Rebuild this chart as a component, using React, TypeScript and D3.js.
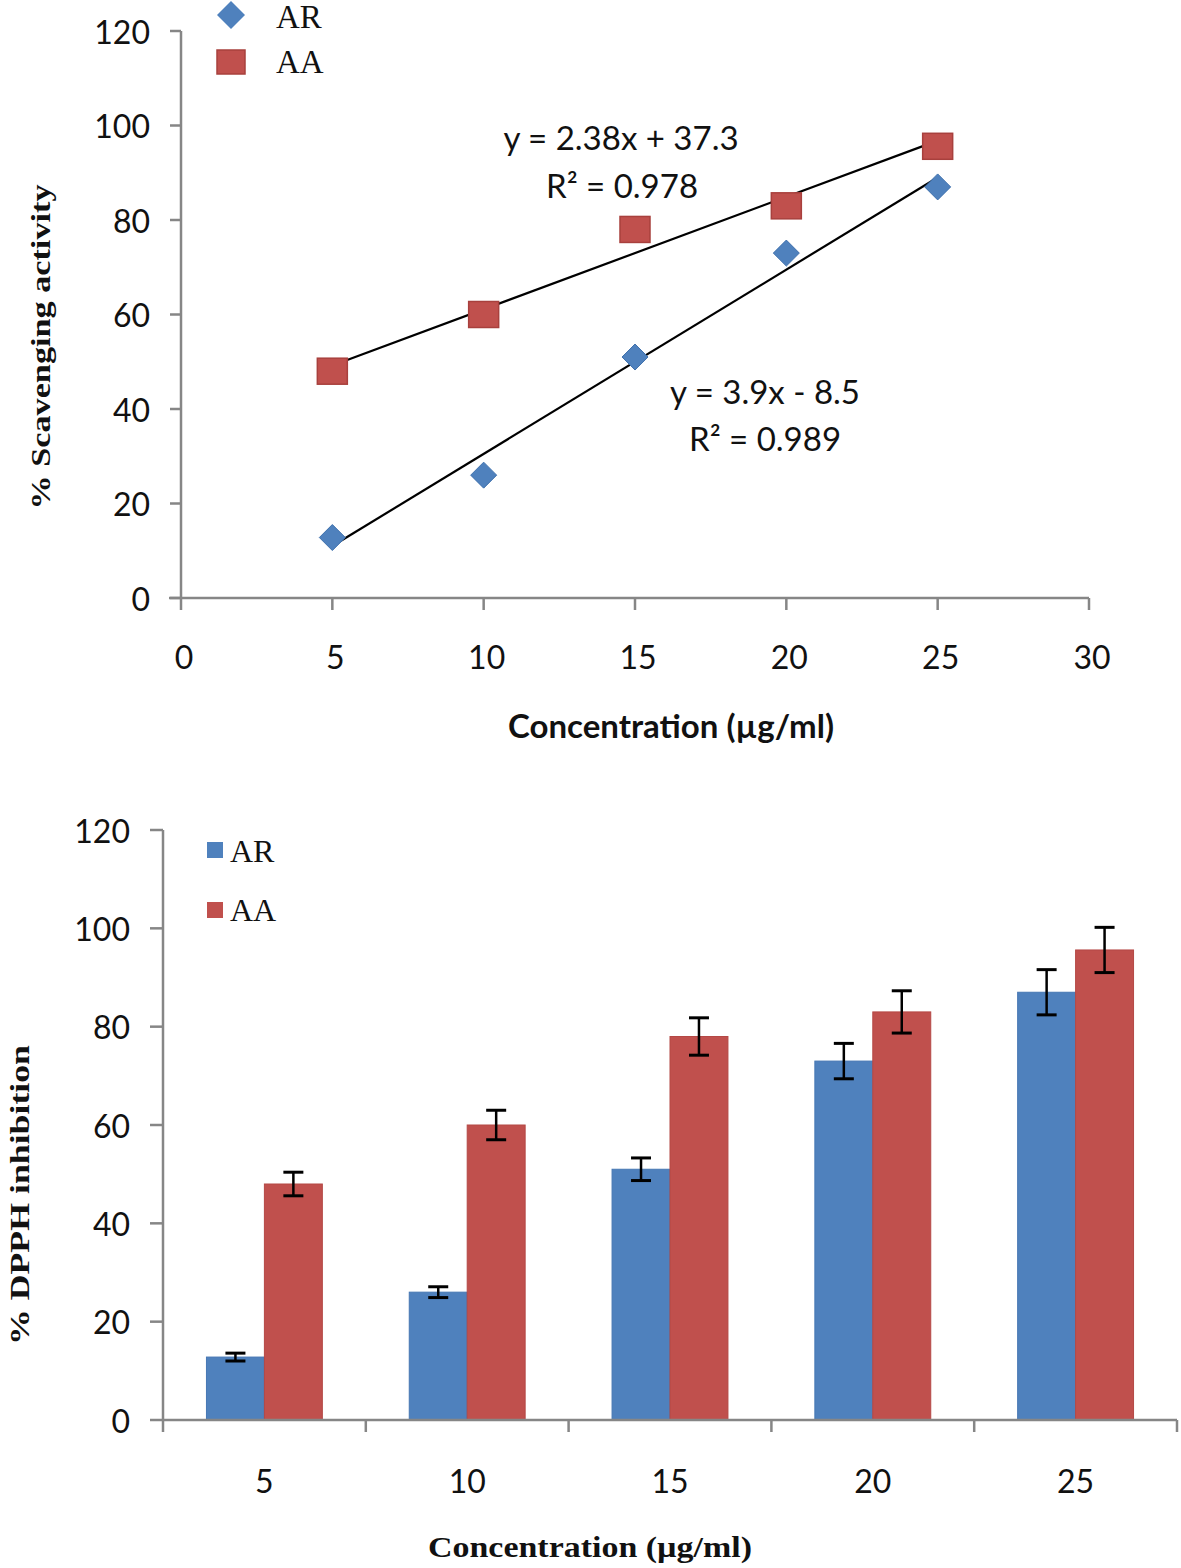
import React from "react";
import * as d3 from "d3";

const concentrations = [5, 10, 15, 20, 25];
const arValues = [12.8, 26, 51, 73, 87];
const aaValues = [48, 60, 78, 83, 95.6];
const arErrors = [0.8, 1.1, 2.3, 3.6, 4.6];
const aaErrors = [2.4, 3.0, 3.8, 4.3, 4.6];
const arFit = { slope: 3.9, intercept: -8.5, eq: "y = 3.9x - 8.5", r2: "0.989" };
const aaFit = { slope: 2.38, intercept: 37.3, eq: "y = 2.38x + 37.3", r2: "0.978" };
const yTicks = [0, 20, 40, 60, 80, 100, 120];
const xTicksTop = [0, 5, 10, 15, 20, 25, 30];
const seriesNames = ["AR", "AA"];

const BLUE = "#4F81BD";
const RED = "#C0504D";
const AXIS = "#868686";
const SANS = "Lato, 'Liberation Sans', sans-serif";
const SERIF = "'Liberation Serif', 'DejaVu Serif', serif";

export default function App() {
  // top scatter chart
  const xT = d3.scaleLinear().domain([0, 30]).range([181, 1089]);
  const yT = d3.scaleLinear().domain([0, 120]).range([598, 31]);
  // bottom bar chart
  const xB = d3.scaleBand<number>().domain(concentrations).range([163, 1177]).paddingInner(0).paddingOuter(0);
  const yB = d3.scaleLinear().domain([0, 120]).range([1420, 830]);
  const bw = xB.bandwidth();
  const barW = bw / 3.5;

  const diamondPath = (cx: number, cy: number, r: number) =>
    `M${cx},${cy - r}L${cx + r},${cy}L${cx},${cy + r}L${cx - r},${cy}Z`;

  const fitLine = (f: { slope: number; intercept: number }) =>
    d3.line<number>().x((d) => xT(d)).y((d) => yT(f.slope * d + f.intercept))([5, 25]) as string;

  return (
    <svg width={1181} height={1568} style={{ position: "absolute", left: 0, top: 0, background: "#fff" }}>
      <rect width={1181} height={1568} fill="#fff" />
      {/* ================= TOP CHART ================= */}
      <g>
        <line x1={xT(0)} x2={xT(0)} y1={yT(120)} y2={yT(0)} stroke={AXIS} strokeWidth={2.5} />
        <line x1={xT(0) - 12} x2={xT(30)} y1={yT(0)} y2={yT(0)} stroke={AXIS} strokeWidth={2.5} />
        {yTicks.map((t) => (
          <g key={"yt" + t}>
            <line x1={xT(0) - 11} x2={xT(0)} y1={yT(t)} y2={yT(t)} stroke={AXIS} strokeWidth={2.5} />
            <text x={150} y={yT(t)} textAnchor="end" dominantBaseline="central" fontFamily={SANS} fontSize={32} fill="#111">
              {t}
            </text>
          </g>
        ))}
        {xTicksTop.map((t) => (
          <g key={"xt" + t}>
            <line x1={xT(t)} x2={xT(t)} y1={yT(0)} y2={yT(0) + 12} stroke={AXIS} strokeWidth={2.5} />
            <text x={xT(t) + 3} y={656} textAnchor="middle" dominantBaseline="central" fontFamily={SANS} fontSize={32} fill="#111">
              {t}
            </text>
          </g>
        ))}
        <text x={671} y={725} textAnchor="middle" dominantBaseline="central" fontFamily={SANS} fontWeight="bold" fontSize={33} fill="#111">
          Concentration (µg/ml)
        </text>
        <text
          transform={`translate(40,347) rotate(-90)`}
          textAnchor="middle"
          dominantBaseline="central"
          fontFamily={SERIF}
          fontWeight="bold"
          fontSize={28}
          textLength={325}
          lengthAdjust="spacingAndGlyphs"
          fill="#111"
        >
          % Scavenging activity
        </text>
        {/* trendlines */}
        <path d={fitLine(aaFit)} stroke="#000" strokeWidth={2.2} fill="none" />
        <path d={fitLine(arFit)} stroke="#000" strokeWidth={2.2} fill="none" />
        {/* points */}
        {concentrations.map((c, i) => (
          <rect
            key={"aa" + c}
            x={xT(c) - 15}
            y={yT(aaValues[i]) - 13}
            width={30}
            height={26}
            fill={RED}
            stroke="#A8403D"
            strokeWidth={1.5}
          />
        ))}
        {concentrations.map((c, i) => (
          <path key={"ar" + c} d={diamondPath(xT(c), yT(arValues[i]), 13)} fill={BLUE} stroke="#3F71AD" strokeWidth={1} />
        ))}
        {/* equations */}
        <text x={621} y={137} textAnchor="middle" dominantBaseline="central" fontFamily={SANS} fontSize={33} fill="#111">
          {aaFit.eq}
        </text>
        <text x={622} y={185} textAnchor="middle" dominantBaseline="central" fontFamily={SANS} fontSize={33} fill="#111">
          R² = {aaFit.r2}
        </text>
        <text x={765} y={391} textAnchor="middle" dominantBaseline="central" fontFamily={SANS} fontSize={33} fill="#111">
          {arFit.eq}
        </text>
        <text x={765} y={438} textAnchor="middle" dominantBaseline="central" fontFamily={SANS} fontSize={33} fill="#111">
          R² = {arFit.r2}
        </text>
        {/* legend */}
        <path d={diamondPath(231, 15, 14)} fill={BLUE} />
        <text x={276} y={17} dominantBaseline="central" fontFamily={SERIF} fontSize={33} fill="#111">
          {seriesNames[0]}
        </text>
        <rect x={217} y={50} width={28} height={24} fill={RED} stroke="#A8403D" strokeWidth={1.5} />
        <text x={276} y={62} dominantBaseline="central" fontFamily={SERIF} fontSize={33} fill="#111">
          {seriesNames[1]}
        </text>
      </g>

      {/* ================= BOTTOM CHART ================= */}
      <g>
        {concentrations.map((c, i) => {
          const cx = (xB(c) as number) + bw / 2;
          return (
            <g key={"bar" + c}>
              <rect x={cx - barW} y={yB(arValues[i])} width={barW} height={yB(0) - yB(arValues[i])} fill={BLUE} stroke="#4677B3" strokeWidth={1} />
              <rect x={cx} y={yB(aaValues[i])} width={barW} height={yB(0) - yB(aaValues[i])} fill={RED} stroke="#B44845" strokeWidth={1} />
            </g>
          );
        })}
        {concentrations.map((c, i) => {
          const cx = (xB(c) as number) + bw / 2;
          const bars = [
            { x: cx - barW / 2, v: arValues[i], e: arErrors[i] },
            { x: cx + barW / 2, v: aaValues[i], e: aaErrors[i] },
          ];
          return bars.map((b, j) => (
            <g key={"err" + c + j} stroke="#000" strokeWidth={2.5}>
              <line x1={b.x} x2={b.x} y1={yB(b.v + b.e)} y2={yB(b.v - b.e)} />
              <line x1={b.x - 10} x2={b.x + 10} y1={yB(b.v + b.e)} y2={yB(b.v + b.e)} strokeWidth={3} />
              <line x1={b.x - 10} x2={b.x + 10} y1={yB(b.v - b.e)} y2={yB(b.v - b.e)} strokeWidth={3} />
            </g>
          ));
        })}
        <line x1={163} x2={163} y1={yB(120)} y2={yB(0)} stroke={AXIS} strokeWidth={2.5} />
        <line x1={163} x2={1177} y1={yB(0)} y2={yB(0)} stroke={AXIS} strokeWidth={2.5} />
        {yTicks.map((t) => (
          <g key={"ybt" + t}>
            <line x1={150} x2={163} y1={yB(t)} y2={yB(t)} stroke={AXIS} strokeWidth={2.5} />
            <text x={130} y={yB(t)} textAnchor="end" dominantBaseline="central" fontFamily={SANS} fontSize={32} fill="#111">
              {t}
            </text>
          </g>
        ))}
        {[...concentrations.map((c) => xB(c) as number), 1177].map((x, i) => (
          <line key={"xbt" + i} x1={x} x2={x} y1={yB(0)} y2={yB(0) + 12} stroke={AXIS} strokeWidth={2.5} />
        ))}
        {concentrations.map((c) => (
          <text key={"xbl" + c} x={(xB(c) as number) + bw / 2} y={1480} textAnchor="middle" dominantBaseline="central" fontFamily={SANS} fontSize={32} fill="#111">
            {c}
          </text>
        ))}
        <text x={590} y={1546} textAnchor="middle" dominantBaseline="central" fontFamily={SERIF} fontWeight="bold" fontSize={30} textLength={324} lengthAdjust="spacingAndGlyphs" fill="#111">
          Concentration (µg/ml)
        </text>
        <text
          transform={`translate(20,1195) rotate(-90)`}
          textAnchor="middle"
          dominantBaseline="central"
          fontFamily={SERIF}
          fontWeight="bold"
          fontSize={27}
          textLength={300}
          lengthAdjust="spacingAndGlyphs"
          fill="#111"
        >
          % DPPH inhibition
        </text>
        {/* legend */}
        <rect x={207} y={842} width={16} height={16} fill={BLUE} />
        <text x={230} y={851} dominantBaseline="central" fontFamily={SERIF} fontSize={32} fill="#111">
          {seriesNames[0]}
        </text>
        <rect x={207} y={902} width={16} height={16} fill={RED} />
        <text x={230} y={910} dominantBaseline="central" fontFamily={SERIF} fontSize={32} fill="#111">
          {seriesNames[1]}
        </text>
      </g>
    </svg>
  );
}
